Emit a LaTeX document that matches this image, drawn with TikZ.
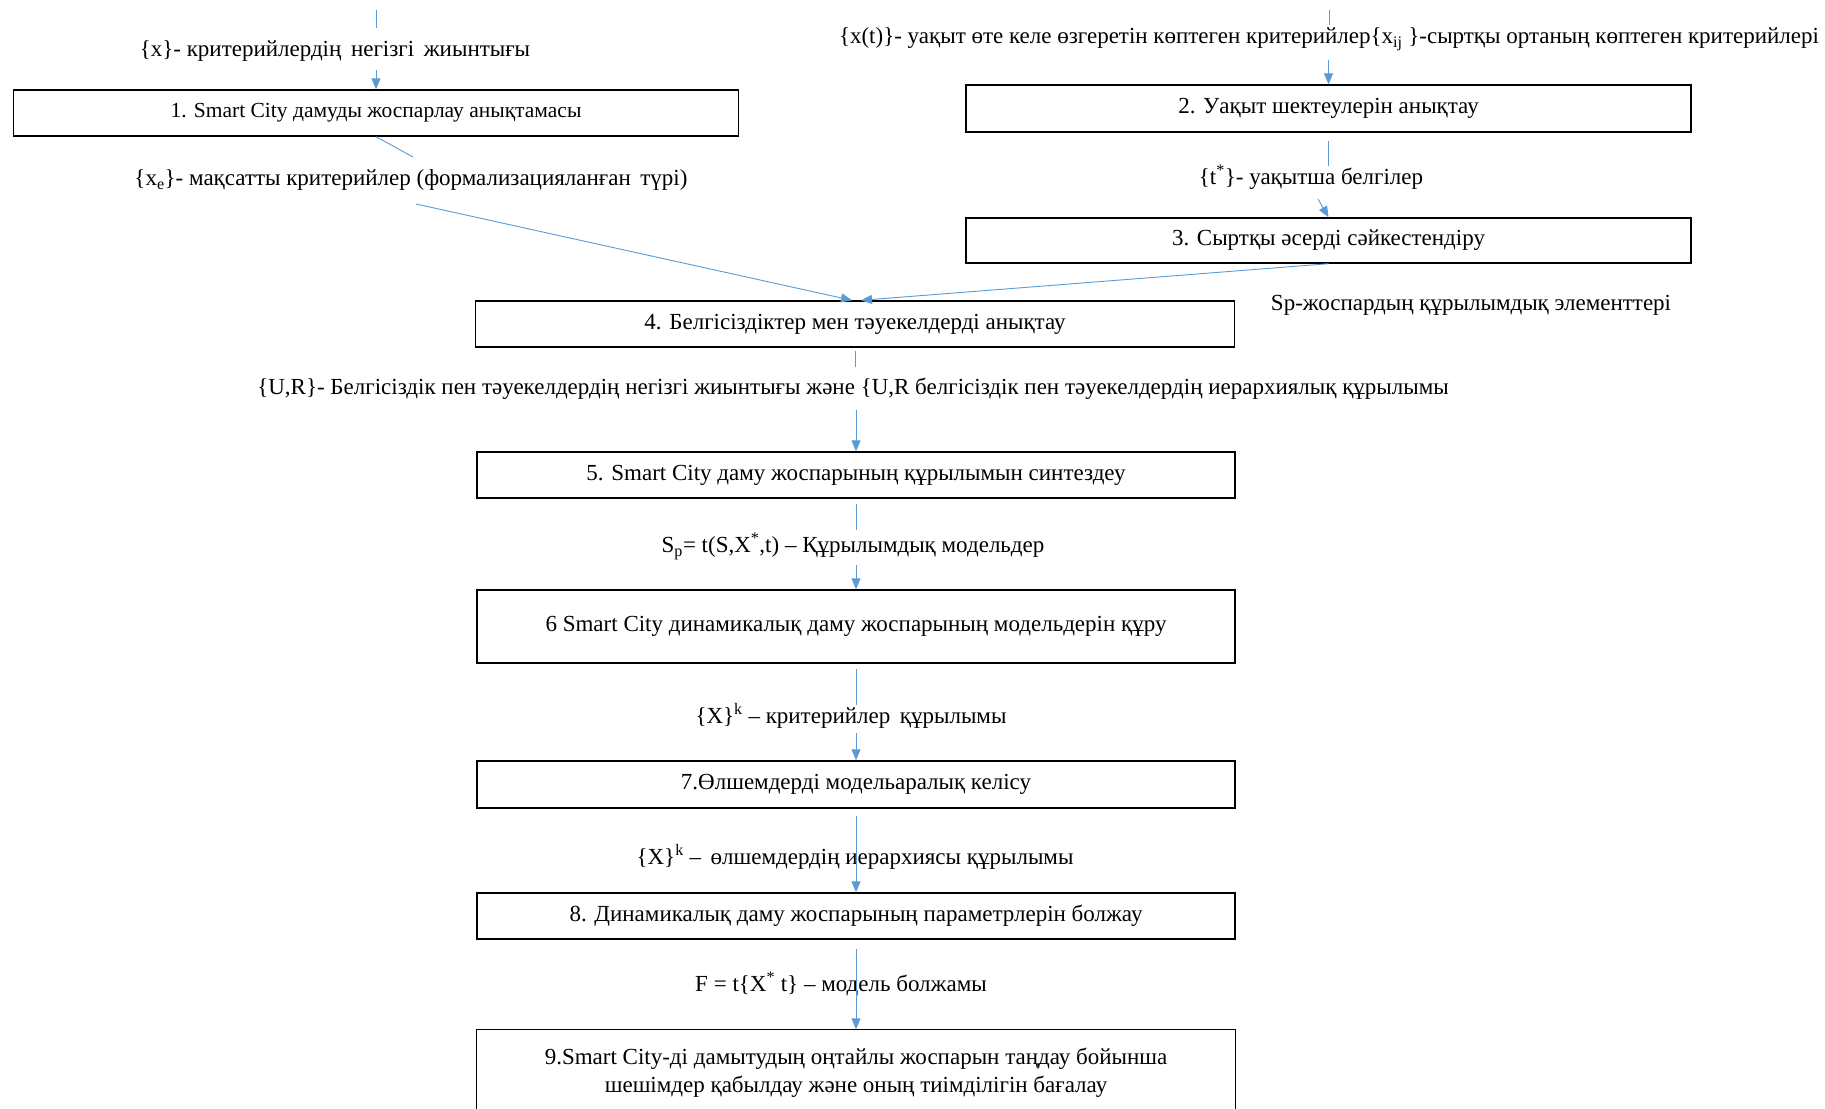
\documentclass[tikz,border=0pt]{standalone}
\usepackage{fontspec}
\setmainfont{Liberation Serif}
\usetikzlibrary{arrows.meta}
\definecolor{lineblue}{RGB}{91,155,213}
\begin{document}
\begin{tikzpicture}[x=1pt,y=-1pt,
  fs/.style={font=\fontsize{23}{28}\selectfont},
  box/.style={fs,draw=black,line width=1.4pt,inner sep=0pt,align=center},
  lbl/.style={fs,inner sep=2pt,text height=16pt,text depth=5pt},
  ln/.style={draw=lineblue,line width=0.9pt},
  arr/.style={ln,-{Triangle[length=11pt,width=9pt]}}]
\fill[white] (0,0) rectangle (1825,1108);
\useasboundingbox (0,0) rectangle (1825,1108);

% boxes
\node[box,font=\fontsize{21.5}{28}\selectfont,minimum width=725pt,minimum height=46pt] (box1) at (376,113) {1. Smart City дамуды жоспарлау анықтамасы};
\node[box,minimum width=725pt,minimum height=47pt] (box2) at (1328.5,108.5) {2. Уақыт шектеулерін анықтау};
\node[box,minimum width=725pt,minimum height=45pt] (box3) at (1328.5,240.5) {3. Сыртқы әсерді сәйкестендіру};
\node[box,minimum width=759pt,minimum height=46pt] (box4) at (855,324) {4. Белгісіздіктер мен тәуекелдерді анықтау};
\node[box,minimum width=758pt,minimum height=46pt] (box5) at (856,475) {5. Smart City даму жоспарының құрылымын синтездеу};
\node[box,minimum width=758pt,minimum height=73pt] (box6) at (856,626.5) {6 Smart City динамикалық даму жоспарының модельдерін құру};
\node[box,minimum width=758pt,minimum height=47pt] (box7) at (856,784.5) {7.Өлшемдерді модельаралық келісу};
\node[box,minimum width=758pt,minimum height=46pt] (box8) at (856,916) {8. Динамикалық даму жоспарының параметрлерін болжау};
\node[box,draw=none,minimum width=758pt,minimum height=86pt] (box9) at (856,1073) {9.Smart City-ді дамытудың оңтайлы жоспарын таңдау бойынша\\шешімдер қабылдау және оның тиімділігін бағалау};
\draw[black,line width=1.4pt] (box9.south west) -- (box9.north west) -- (box9.north east) -- (box9.south east);

% labels
\node[lbl] (lx) at (335,51) {\{x\}- критерийлердің\, негізгі\, жиынтығы};
\node[lbl] (lxe) at (411,180) {\{x\textsubscript{e}\}- мақсатты критерийлер (формализацияланған\, түрі)};
\node[lbl] (lxt) at (1329,38) {\{x(t)\}- уақыт өте келе өзгеретін көптеген критерийлер\{x\textsubscript{ij}\ \}-сыртқы ортаның көптеген критерийлері};
\node[lbl] (lt) at (1311,179) {\{t\textsuperscript{*}\}- уақытша белгілер};
\node[lbl] (lsp) at (1471,305) {Sp-жоспардың құрылымдық элементтері};
\node[lbl] (lur) at (853,389) {\{U,R\}- Белгісіздік пен тәуекелдердің негізгі жиынтығы және \{U,R белгісіздік пен тәуекелдердің иерархиялық құрылымы};
\node[lbl] (ls) at (853,547) {S\textsubscript{p}= t(S,X\textsuperscript{*},t) – Құрылымдық модельдер};
\node[lbl] (lxk) at (851,718) {\{X\}\textsuperscript{k} – критерийлер\, құрылымы};
\node[lbl] (lxk2) at (855,859) {\{X\}\textsuperscript{k} –\, өлшемдердің иерархиясы құрылымы};
\node[lbl] (lf) at (841,986) {F = t\{X\textsuperscript{*} t\} – модель болжамы};

% free ends
\coordinate (t1) at (376,10);
\coordinate (t2) at (1329,10);
\coordinate (d1) at (413,157);
\coordinate (d2) at (416,204);
\coordinate (d3) at (1318,199);

% connectors
\draw[ln,shorten >=10pt] (t1) -- (t1 |- lx.north);
\draw[arr,shorten <=6pt] (box1.north |- lx.south) -- (box1.north);
\draw[ln] (box1.south) -- (d1);
\draw[arr] (d2) -- ([xshift=-3pt]box4.north);
\draw[ln] (t2) -- (t2 |- lxt.north);
\draw[arr,shorten <=9pt] (box2.north |- lxt.south) -- (box2.north);
\draw[ln,shorten <=8pt] (box2.south) -- (box2.south |- lt.north);
\draw[arr] (d3) -- (box3.north);
\draw[arr] (box3.south) -- ([xshift=6pt]box4.north);
\draw[ln,shorten <=3pt,shorten >=9pt] (box4.south) -- (box4.south |- lur.north);
\draw[arr,shorten <=8pt] (box5.north |- lur.south) -- (box5.north);
\draw[ln,shorten <=5pt,shorten >=4pt] (box5.south) -- (box5.south |- ls.north);
\draw[arr,shorten <=5pt] (box6.north |- ls.south) -- (box6.north);
\draw[ln,shorten <=5pt] (box6.south) -- (box6.south |- lxk.north);
\draw[arr,shorten <=2pt] (box7.north |- lxk.south) -- (box7.north);
\draw[arr,shorten <=7pt] (box7.south) -- (box8.north);
\draw[arr,shorten <=9pt] (box8.south) -- (box9.north);
\end{tikzpicture}
\end{document}
